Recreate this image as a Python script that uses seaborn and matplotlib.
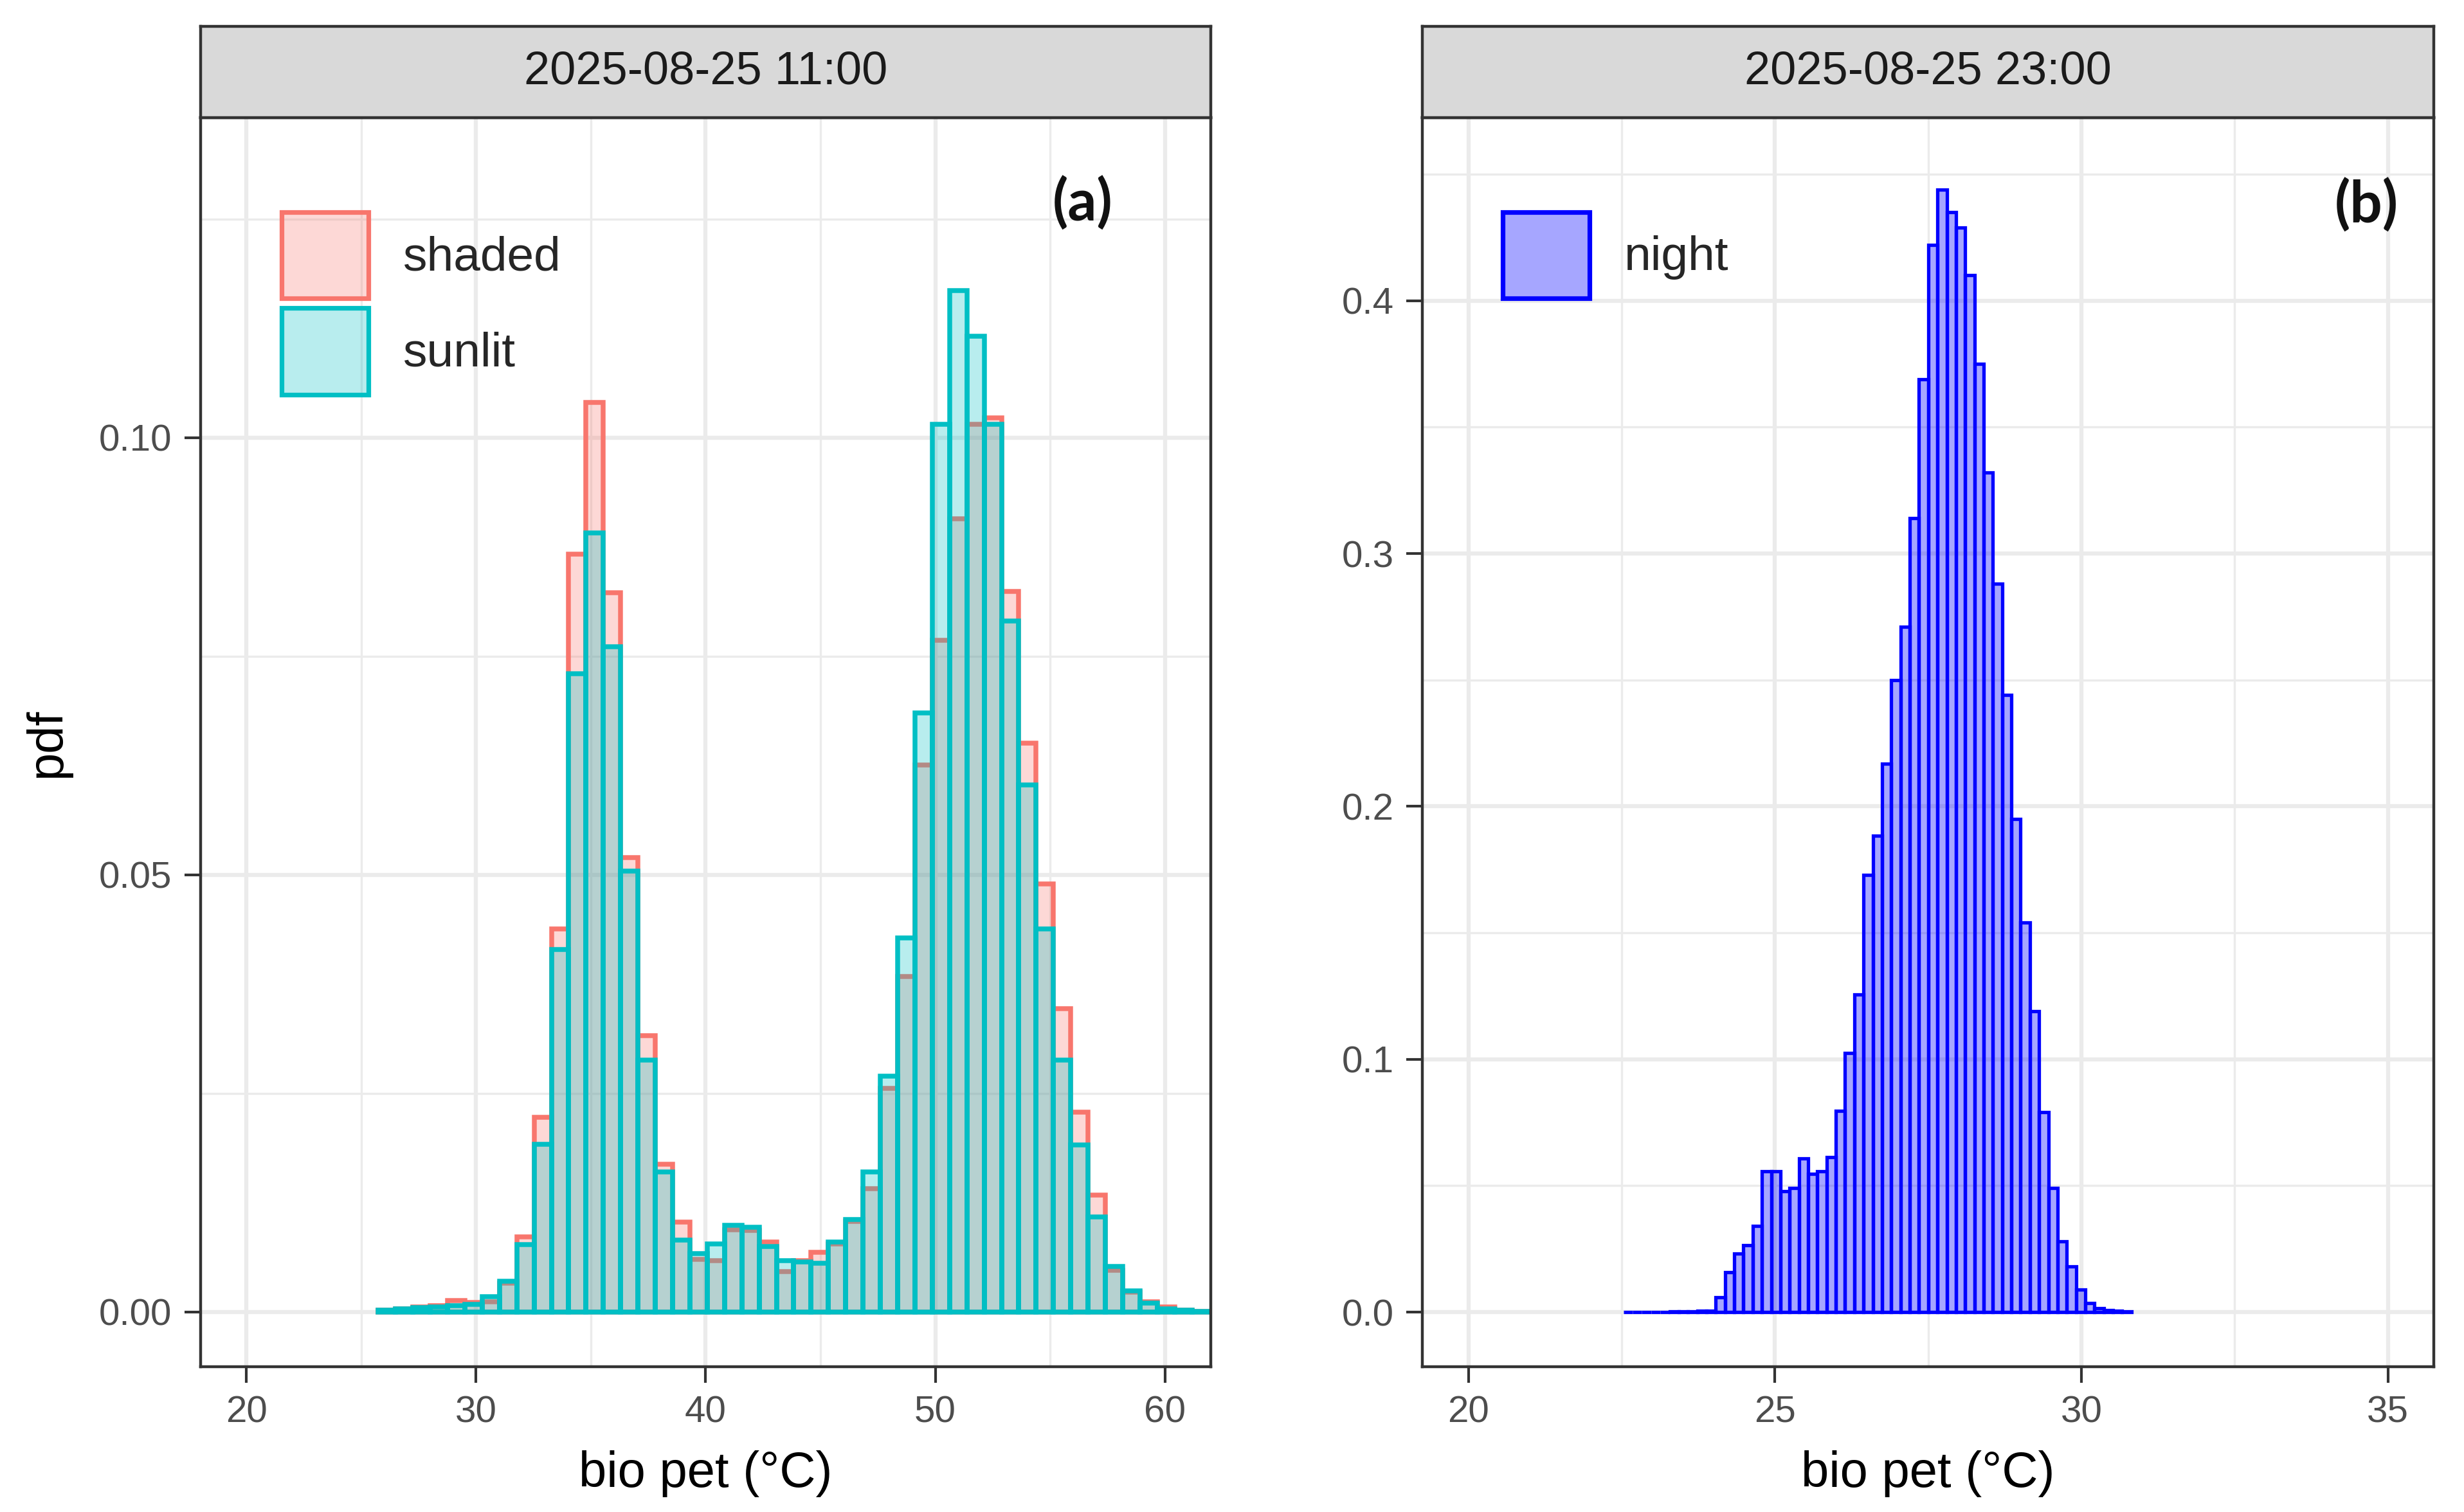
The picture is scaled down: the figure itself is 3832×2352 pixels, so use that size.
import numpy as np
import pandas as pd
import matplotlib
matplotlib.use("Agg")
import matplotlib.pyplot as plt
import seaborn as sns
from matplotlib.ticker import MultipleLocator, FormatStrFormatter
from matplotlib.patches import Patch

# ---------------- data ----------------
# panel (a): 2025-08-25 11:00, density per bin
BIN_START_A = 25.74
BIN_WIDTH_A = 0.754
shaded = [0.0002, 0.0004, 0.0006, 0.0007, 0.0013, 0.0011, 0.0012, 0.0033, 0.0086, 0.0223,
          0.0438, 0.0867, 0.1040, 0.0823, 0.0520, 0.0316, 0.0169, 0.0103, 0.0060, 0.0059,
          0.0094, 0.0093, 0.0080, 0.0046, 0.0059, 0.0068, 0.0078, 0.0104, 0.0141, 0.0256,
          0.0384, 0.0626, 0.0768, 0.0907, 0.1015, 0.1023, 0.0824, 0.0651, 0.0490, 0.0347,
          0.0229, 0.0134, 0.0048, 0.0023, 0.0012, 0.0006, 0.0002, 0.0001]
sunlit = [0.0002, 0.0004, 0.0005, 0.0006, 0.0007, 0.0009, 0.0018, 0.0035, 0.0077, 0.0192,
          0.0415, 0.0730, 0.0891, 0.0761, 0.0504, 0.0288, 0.0160, 0.0082, 0.0067, 0.0078,
          0.0099, 0.0097, 0.0075, 0.0059, 0.0057, 0.0056, 0.0080, 0.0106, 0.0160, 0.0270,
          0.0428, 0.0685, 0.1015, 0.1168, 0.1116, 0.1015, 0.0790, 0.0603, 0.0438, 0.0288,
          0.0191, 0.0109, 0.0052, 0.0024, 0.0010, 0.0004, 0.0002, 0.0001]

# panel (b): 2025-08-25 23:00
BIN_START_B = 22.53
BIN_WIDTH_B = 0.1507
night = [0.0001, 0.0001, 0.0001, 0.0001, 0.0001, 0.0002, 0.0002, 0.0003, 0.0004, 0.0006,
         0.0058, 0.0157, 0.0232, 0.0265, 0.0340, 0.0556, 0.0556, 0.0477, 0.0490, 0.0608,
         0.0547, 0.0556, 0.0613, 0.0796, 0.1025, 0.1255, 0.1730, 0.1885, 0.2170, 0.2500,
         0.2710, 0.3140, 0.3690, 0.4220, 0.4440, 0.4350, 0.4290, 0.4100, 0.3750, 0.3320,
         0.2880, 0.2440, 0.1950, 0.1540, 0.1190, 0.0790, 0.0490, 0.0280, 0.0180, 0.0089,
         0.0036, 0.0015, 0.0009, 0.0006, 0.0003]

titles = ["2025-08-25 11:00", "2025-08-25 23:00"]
panel_tags = ["(a)", "(b)"]
xlabel = "bio pet (°C)"
ylabel = "pdf"

# ---------------- style ----------------
RED = "#F8766D"
TEAL = "#00BFC4"
BLUE = "#0000FF"
GRID = "#EBEBEB"
BORDER = "#333333"
TICKLAB = "#4D4D4D"

sns.set_theme(style="white")
plt.rcParams['font.family'] = ['Liberation Sans', 'DejaVu Sans']

W, H, DPI = 3832, 2352, 200
fig = plt.figure(figsize=(W / DPI, H / DPI), dpi=DPI)
fig.patch.set_facecolor("white")


def px_axes(l, t, r, b):
    return fig.add_axes([l / W, 1 - b / H, (r - l) / W, (b - t) / H])


axa = px_axes(312, 183, 1883, 2126)
axb = px_axes(2212, 183, 3785, 2126)
stra = px_axes(312, 41, 1883, 183)
strb = px_axes(2212, 41, 3785, 183)

# ---------------- panel a ----------------
edges_a = BIN_START_A + BIN_WIDTH_A * np.arange(len(shaded) + 1)
centers_a = edges_a[:-1] + BIN_WIDTH_A / 2
df_a = pd.DataFrame({"x": np.concatenate([centers_a, centers_a]),
                     "w": np.concatenate([shaded, sunlit]),
                     "group": ["shaded"] * len(shaded) + ["sunlit"] * len(sunlit)})

LW_A = 2.7
sns.histplot(data=df_a[df_a.group == "shaded"], x="x", weights="w", bins=list(edges_a),
             stat="count", element="bars", fill=True, color=RED, alpha=0.28,
             edgecolor=RED, linewidth=LW_A, ax=axa)
sns.histplot(data=df_a[df_a.group == "sunlit"], x="x", weights="w", bins=list(edges_a),
             stat="count", element="bars", fill=True, color=TEAL, alpha=0.28,
             edgecolor=TEAL, linewidth=LW_A, ax=axa)

# ---------------- panel b ----------------
edges_b = BIN_START_B + BIN_WIDTH_B * np.arange(len(night) + 1)
centers_b = edges_b[:-1] + BIN_WIDTH_B / 2
df_b = pd.DataFrame({"x": centers_b, "w": night})
LW_B = 1.9
sns.histplot(data=df_b, x="x", weights="w", bins=list(edges_b), stat="count",
             element="bars", fill=True, color=BLUE, alpha=0.35,
             edgecolor=BLUE, linewidth=LW_B, ax=axb)

# ---------------- axes styling ----------------
def style_axes(ax, xlim, ylim, xmaj, xmin, ymaj, ymin, yfmt):
    ax.set_xlim(*xlim)
    ax.set_ylim(*ylim)
    ax.xaxis.set_major_locator(MultipleLocator(xmaj))
    ax.xaxis.set_minor_locator(MultipleLocator(xmin))
    ax.yaxis.set_major_locator(MultipleLocator(ymaj))
    ax.yaxis.set_minor_locator(MultipleLocator(ymin))
    ax.yaxis.set_major_formatter(FormatStrFormatter(yfmt))
    ax.xaxis.set_major_formatter(FormatStrFormatter("%d"))
    ax.set_facecolor("white")
    ax.set_axisbelow(True)
    ax.grid(which="major", color=GRID, linewidth=2.3)
    ax.grid(which="minor", color=GRID, linewidth=1.2)
    ax.tick_params(which="major", direction="out", length=9, width=1.5,
                   color=BORDER, labelsize=21, labelcolor=TICKLAB, pad=7,
                   bottom=True, left=True)
    ax.tick_params(which="minor", length=0)
    for s in ax.spines.values():
        s.set_color(BORDER)
        s.set_linewidth(1.6)
        s.set_visible(True)
    ax.set_xlabel(xlabel, fontsize=28, color="#000000")
    ax.xaxis.set_label_coords(0.5, -0.067)
    ax.set_ylabel("")


style_axes(axa, (18, 62), (-0.00625, 0.1366), 10, 5, 0.05, 0.025, "%.2f")
style_axes(axb, (19.25, 35.75), (-0.0216, 0.4724), 5, 2.5, 0.1, 0.05, "%.1f")
axa.set_ylabel(ylabel, fontsize=28, color="#000000")
axa.yaxis.set_label_coords(-0.1286, 0.5)

# strips
for st, title in zip([stra, strb], titles):
    st.set_facecolor("#D9D9D9")
    st.set_xticks([])
    st.set_yticks([])
    st.grid(False)
    for s in st.spines.values():
        s.set_color(BORDER)
        s.set_linewidth(1.6)
        s.set_visible(True)
    st.text(0.5, 0.5, title, transform=st.transAxes, ha="center", va="center",
            fontsize=26, color="#1A1A1A")

# panel tags
axa.text(0.8733, 0.9316, panel_tags[0], transform=axa.transAxes, ha="center",
         va="center", fontsize=32, fontweight="bold",
         family=["Lato", "DejaVu Sans"], color="#111111")
axb.text(0.9333, 0.930, panel_tags[1], transform=axb.transAxes, ha="center",
         va="center", fontsize=32, fontweight="bold",
         family=["Lato", "DejaVu Sans"], color="#111111")

# legends
def add_legend(ax, labels, colors, alpha, x0, y0):
    handles = [Patch(facecolor=matplotlib.colors.to_rgba(c, alpha), edgecolor=c,
                     linewidth=2.6, label=l) for l, c in zip(labels, colors)]
    ax.legend(handles=handles, loc="upper left", bbox_to_anchor=(x0, y0),
              frameon=False, fontsize=27, handlelength=1.8, handleheight=2.38,
              labelspacing=0.2, handletextpad=0.72, borderpad=0.0,
              borderaxespad=0.0)


add_legend(axa, ["shaded", "sunlit"], [RED, TEAL], 0.28, 0.0802, 0.9243)
add_legend(axb, ["night"], [BLUE], 0.35, (2337 - 2212) / 1573, 0.9243)

fig.savefig("out.png", dpi=DPI, facecolor="white")
